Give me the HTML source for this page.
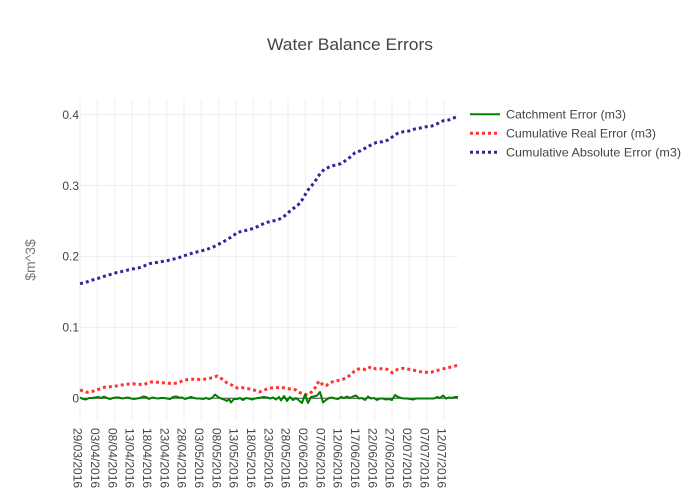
<!DOCTYPE html>
<html><head><meta charset="utf-8"><style>
html,body{margin:0;padding:0;background:#fff;}
svg{display:block;font-family:"Liberation Sans",Arial,sans-serif;}
</style></head><body>
<svg width="700" height="500" viewBox="0 0 700 500" xmlns="http://www.w3.org/2000/svg">
<rect width="700" height="500" fill="#fff"/>
<g stroke="#eee" stroke-width="1">
<line x1="80" y1="100" x2="80" y2="420"/>
<line x1="97.3" y1="100" x2="97.3" y2="420"/>
<line x1="114.7" y1="100" x2="114.7" y2="420"/>
<line x1="132" y1="100" x2="132" y2="420"/>
<line x1="149.3" y1="100" x2="149.3" y2="420"/>
<line x1="166.7" y1="100" x2="166.7" y2="420"/>
<line x1="184" y1="100" x2="184" y2="420"/>
<line x1="201.3" y1="100" x2="201.3" y2="420"/>
<line x1="218.7" y1="100" x2="218.7" y2="420"/>
<line x1="236" y1="100" x2="236" y2="420"/>
<line x1="253.3" y1="100" x2="253.3" y2="420"/>
<line x1="270.7" y1="100" x2="270.7" y2="420"/>
<line x1="288" y1="100" x2="288" y2="420"/>
<line x1="305.3" y1="100" x2="305.3" y2="420"/>
<line x1="322.7" y1="100" x2="322.7" y2="420"/>
<line x1="340" y1="100" x2="340" y2="420"/>
<line x1="357.3" y1="100" x2="357.3" y2="420"/>
<line x1="374.7" y1="100" x2="374.7" y2="420"/>
<line x1="392" y1="100" x2="392" y2="420"/>
<line x1="409.3" y1="100" x2="409.3" y2="420"/>
<line x1="426.7" y1="100" x2="426.7" y2="420"/>
<line x1="444" y1="100" x2="444" y2="420"/>
<line x1="80" y1="114.5" x2="458" y2="114.5"/>
<line x1="80" y1="185.5" x2="458" y2="185.5"/>
<line x1="80" y1="256.4" x2="458" y2="256.4"/>
<line x1="80" y1="327.4" x2="458" y2="327.4"/>
</g>
<line x1="80" y1="398.3" x2="458" y2="398.3" stroke="#444" stroke-width="1"/>

<!-- purple cumulative absolute -->
<polyline fill="none" stroke="#3d1f99" stroke-width="3" stroke-dasharray="3,3" stroke-linejoin="round" points="80,283.7 81.7,283.3 86.7,282 92.3,280 98.3,278.3 104.3,276.3 109.7,274.7 115,273 121,271.7 126.7,270.3 132.3,269 138.3,268 144,266 149.3,263.7 155.3,262.7 161,261.7 167,260.7 172.7,259.3 178.7,257.7 184.3,255.7 189.7,254 195.3,252.3 201.3,251 207,249.3 212.7,247.3 217.7,244.7 223,242 228,239 233,236 237.3,232.3 242.7,231.3 248.3,229.7 254,228.3 259.3,225.7 265,223 270.7,221.3 276.7,220.3 281.7,218 286.7,214.3 291,210 296,206.7 300.3,202.7 303.3,198 306.3,192.7 309.7,187.7 313.7,183.3 317,178.3 320.3,173.3 324.3,169.3 329.3,167 335.3,165 341,163.7 346,160.3 350.7,156.7 355,152.7 360.7,150.7 366,147.7 371,145 376.7,142.3 382.3,141.7 388,140 392.7,136.7 397.7,133.3 403.3,131.7 409,131 414.7,129 420.3,128 426.3,126.7 432,126 437.3,123.7 443.3,120.7 448.7,120 454.3,117.7 458,116.5"/>

<!-- red cumulative real -->
<polyline fill="none" stroke="#f33" stroke-width="3" stroke-dasharray="3,3" stroke-linejoin="round" points="80,390 81,390.3 87,392.3 92.7,391.3 98.7,389.3 104.3,387.3 110.3,386.7 116,386 121.7,385 127,384.3 132.7,383.7 138.7,384.3 144,384.7 149.7,382 155.3,382 161.3,382.7 167,383 172.7,383.7 178.3,382.7 183.7,380.3 189.3,379.3 195,379.3 201,379.5 206.7,379 212.3,377.7 217.3,376 222,379 226.7,382.7 232.3,385.3 237.3,388 242.7,387.7 248.3,388.7 254,390 259.3,392 264.3,390 270,388 276,387.7 281.7,387.3 286.7,388.7 291.7,389 296,390 300,392.7 304.3,394.3 308.3,394.8 311.7,391.7 315,388 319,381 323.5,385.5 326.7,385.3 330.7,382.3 336,381 341.7,379.7 346.7,377.7 351,374.3 355.7,370 360.7,368.3 365.7,369.7 371,366.7 376,369 381.7,368.7 387,369.3 392.3,372.7 397.7,369.3 403.3,368.3 409,369.3 414.3,370.3 420,371.7 425.3,372.3 431,372.3 436.3,370.7 442.3,369 448,367.7 453.7,366.3 458,365.3"/>

<!-- green catchment -->
<polyline fill="none" stroke="#008000" stroke-width="2" stroke-linejoin="round" points="80,397.5 83,399 86,399.5 89,398 92,398 95,397.5 98,397 101,398 104,396.5 107,398 110,399 113,398 116,397.5 119,397.5 122,398.5 125,398 128,397.5 131,398.5 134,399 137,398.5 140,398 143,396.5 146,397 149,399 152,397.5 155,398 158,398.5 161,398 164,398 167,398.5 170,399 173,397 176,396.5 179,397.5 182,397.5 185,399 188,398 191,397 194,398 197,398.5 200,398.5 203,399 206,398 209,399 212,398 215,394.5 218,397 221,398.5 224,399.5 227,401 229,399 231,402.5 234,399 237,399 240,398 243,400 246,398 249,398.5 252,399.5 255,398.5 258,398 261,397.5 264,397 267,397.5 270,398.5 273,397.5 276,399.5 279,397 281,400.5 284,396 287,401 290,397 293,400 296,398 299,400.5 302,403 305,394.5 308,403 311,397 314,396.5 317,395.5 320,392 323,402.5 326,400 329,398 332,397.5 335,398.5 338,399 341,397 344,398 347,396.5 350,398 353,396.5 356,395.5 359,398.5 362,398 365,400 368,396.5 371,398.5 374,398 377,400 380,398.5 383,398.5 386,399.5 389,399 392,400 395,395 398,397 401,398 404,398.5 407,398.5 410,399 413,399.5 416,398.5 419,398.5 422,398.5 425,398.5 428,398.5 431,398.5 434,398.5 437,397 440,398 443,395.5 446,398.5 449,397.5 452,398 455,397 458,397"/>

<!-- title -->
<text x="350" y="50" text-anchor="middle" font-size="17" fill="#444" textLength="166" lengthAdjust="spacingAndGlyphs">Water Balance Errors</text>

<!-- y ticks -->
<g font-size="12" fill="#444" text-anchor="end">
<text x="79" y="118.8">0.4</text>
<text x="79" y="189.8">0.3</text>
<text x="79" y="260.7">0.2</text>
<text x="79" y="331.7">0.1</text>
<text x="79" y="402.6">0</text>
</g>

<!-- y title -->
<text transform="translate(35,260) rotate(-90)" text-anchor="middle" font-size="14" fill="#777">$m^3$</text>

<!-- x ticks -->
<g font-size="12" fill="#444">
<text transform="translate(73.7,428) rotate(90)">29/03/2016</text>
<text transform="translate(91,428) rotate(90)">03/04/2016</text>
<text transform="translate(108.4,428) rotate(90)">08/04/2016</text>
<text transform="translate(125.7,428) rotate(90)">13/04/2016</text>
<text transform="translate(143,428) rotate(90)">18/04/2016</text>
<text transform="translate(160.4,428) rotate(90)">23/04/2016</text>
<text transform="translate(177.7,428) rotate(90)">28/04/2016</text>
<text transform="translate(195,428) rotate(90)">03/05/2016</text>
<text transform="translate(212.4,428) rotate(90)">08/05/2016</text>
<text transform="translate(229.7,428) rotate(90)">13/05/2016</text>
<text transform="translate(247,428) rotate(90)">18/05/2016</text>
<text transform="translate(264.4,428) rotate(90)">23/05/2016</text>
<text transform="translate(281.7,428) rotate(90)">28/05/2016</text>
<text transform="translate(299,428) rotate(90)">02/06/2016</text>
<text transform="translate(316.4,428) rotate(90)">07/06/2016</text>
<text transform="translate(333.7,428) rotate(90)">12/06/2016</text>
<text transform="translate(351,428) rotate(90)">17/06/2016</text>
<text transform="translate(368.4,428) rotate(90)">22/06/2016</text>
<text transform="translate(385.7,428) rotate(90)">27/06/2016</text>
<text transform="translate(403,428) rotate(90)">02/07/2016</text>
<text transform="translate(420.4,428) rotate(90)">07/07/2016</text>
<text transform="translate(437.7,428) rotate(90)">12/07/2016</text>
</g>

<!-- legend -->
<line x1="470" y1="114.3" x2="500" y2="114.3" stroke="#008000" stroke-width="2"/>
<line x1="470" y1="133.3" x2="500" y2="133.3" stroke="#f33" stroke-width="3" stroke-dasharray="3,3"/>
<line x1="470" y1="152.3" x2="500" y2="152.3" stroke="#3d1f99" stroke-width="3" stroke-dasharray="3,3"/>
<g font-size="12" fill="#444">
<text x="506" y="118.5" textLength="120" lengthAdjust="spacingAndGlyphs">Catchment Error (m3)</text>
<text x="506" y="137.5" textLength="150" lengthAdjust="spacingAndGlyphs">Cumulative Real Error (m3)</text>
<text x="506" y="156.5" textLength="175" lengthAdjust="spacingAndGlyphs">Cumulative Absolute Error (m3)</text>
</g>
</svg>
</body></html>
